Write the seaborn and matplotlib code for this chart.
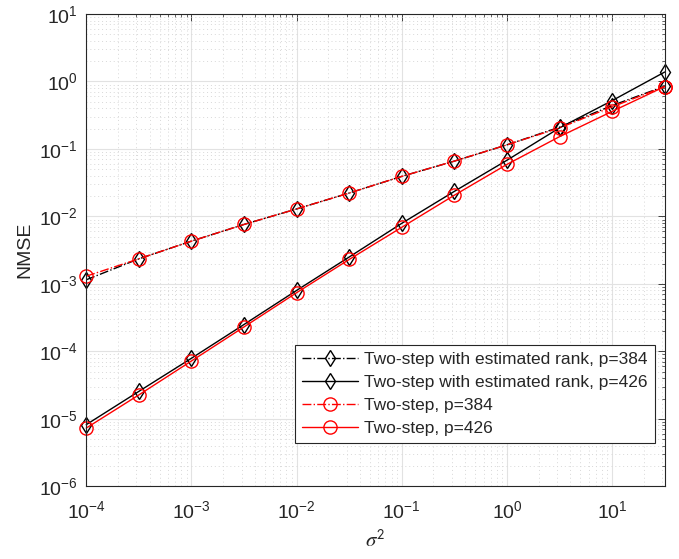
import numpy as np
import pandas as pd
import seaborn as sns
import matplotlib.pyplot as plt
from matplotlib.ticker import LogLocator, NullFormatter

# noise variance sigma^2 (10^-4 ... 10^1.5, half-decade steps)
sigma2 = [1e-4, 3.16e-4, 1e-3, 3.16e-3, 1e-2, 3.16e-2, 1e-1, 3.16e-1, 1.0, 3.16, 10.0, 31.6]

est_rank_384 = [1.15e-3, 2.35e-3, 4.3e-3, 7.6e-3, 1.29e-2, 2.22e-2, 3.92e-2, 6.6e-2, 0.115, 0.21, 0.44, 0.85]
est_rank_426 = [8.2e-6, 2.55e-5, 7.9e-5, 2.5e-4, 8.0e-4, 2.5e-3, 7.9e-3, 2.35e-2, 0.068, 0.205, 0.52, 1.38]
twostep_384 = [1.3e-3, 2.35e-3, 4.3e-3, 7.6e-3, 1.29e-2, 2.22e-2, 3.92e-2, 6.6e-2, 0.115, 0.205, 0.42, 0.84]
twostep_426 = [7.3e-6, 2.26e-5, 7.2e-5, 2.3e-4, 7.4e-4, 2.3e-3, 6.9e-3, 2.06e-2, 0.059, 0.152, 0.36, 0.84]

labels = ["Two-step with estimated rank, p=384",
          "Two-step with estimated rank, p=426",
          "Two-step, p=384",
          "Two-step, p=426"]

sns.set_style("white")
plt.rcParams['font.family'] = ['Liberation Sans', 'DejaVu Sans']
plt.rcParams['mathtext.fontset'] = 'stix'

fig = plt.figure(figsize=(6.79, 5.59), dpi=100)
ax = fig.add_axes([0.127, 0.13, 0.852, 0.845])

series = [
    (est_rank_384, 'black', '-.', 'd'),
    (est_rank_426, 'black', '-', 'd'),
    (twostep_384, 'red', '-.', 'o'),
    (twostep_426, 'red', '-', 'o'),
]
for (vals, col, ls, mk), lab in zip(series, labels):
    df = pd.DataFrame({'x': sigma2, 'y': vals})
    sns.lineplot(data=df, x='x', y='y', ax=ax, color=col, linestyle=ls,
                 marker=mk, markersize=8 if mk == 'd' else 9.5,
                 markerfacecolor='none', markeredgecolor=col, markeredgewidth=1.0,
                 linewidth=1.0, label=lab, clip_on=False)

ax.set_xscale('log')
ax.set_yscale('log')
ax.set_xlim(1e-4, 10**1.5)
ax.set_ylim(1e-6, 1e1)

ax.xaxis.set_major_locator(LogLocator(base=10, numticks=20))
ax.yaxis.set_major_locator(LogLocator(base=10, numticks=20))
ax.xaxis.set_minor_locator(LogLocator(base=10, subs=np.arange(2, 10), numticks=20))
ax.yaxis.set_minor_locator(LogLocator(base=10, subs=np.arange(2, 10), numticks=20))
ax.xaxis.set_minor_formatter(NullFormatter())
ax.yaxis.set_minor_formatter(NullFormatter())

ax.grid(True, which='major', color='#e2e2e2', linestyle='-', linewidth=0.8)
ax.grid(True, which='minor', color='#d8d8d8', linestyle=(0, (1, 3)), linewidth=0.7)
ax.set_axisbelow(True)

ax.tick_params(which='both', direction='in', top=True, right=True, colors='#262626',
               labelsize=14)
ax.tick_params(axis='x', which='major', pad=10)
ax.tick_params(axis='y', which='major', pad=6)
ax.tick_params(which='major', length=5, width=0.6)
ax.tick_params(which='minor', length=2.5, width=0.5)
for s in ax.spines.values():
    s.set_color('#262626')
    s.set_linewidth(0.8)

ax.set_xlabel(r'$\sigma^\mathsf{2}$', fontsize=15, color='#262626', labelpad=5)
ax.set_ylabel('NMSE', fontsize=14, color='#262626', labelpad=4)

leg = ax.legend(loc='lower right', bbox_to_anchor=(0.998, 0.074), fontsize=12.5,
                frameon=True, fancybox=False, edgecolor='#262626', framealpha=1,
                handlelength=3.2, borderpad=0.4, labelspacing=0.45, handletextpad=0.4)
leg.get_frame().set_linewidth(0.8)

fig.savefig('out.png', dpi=100)
